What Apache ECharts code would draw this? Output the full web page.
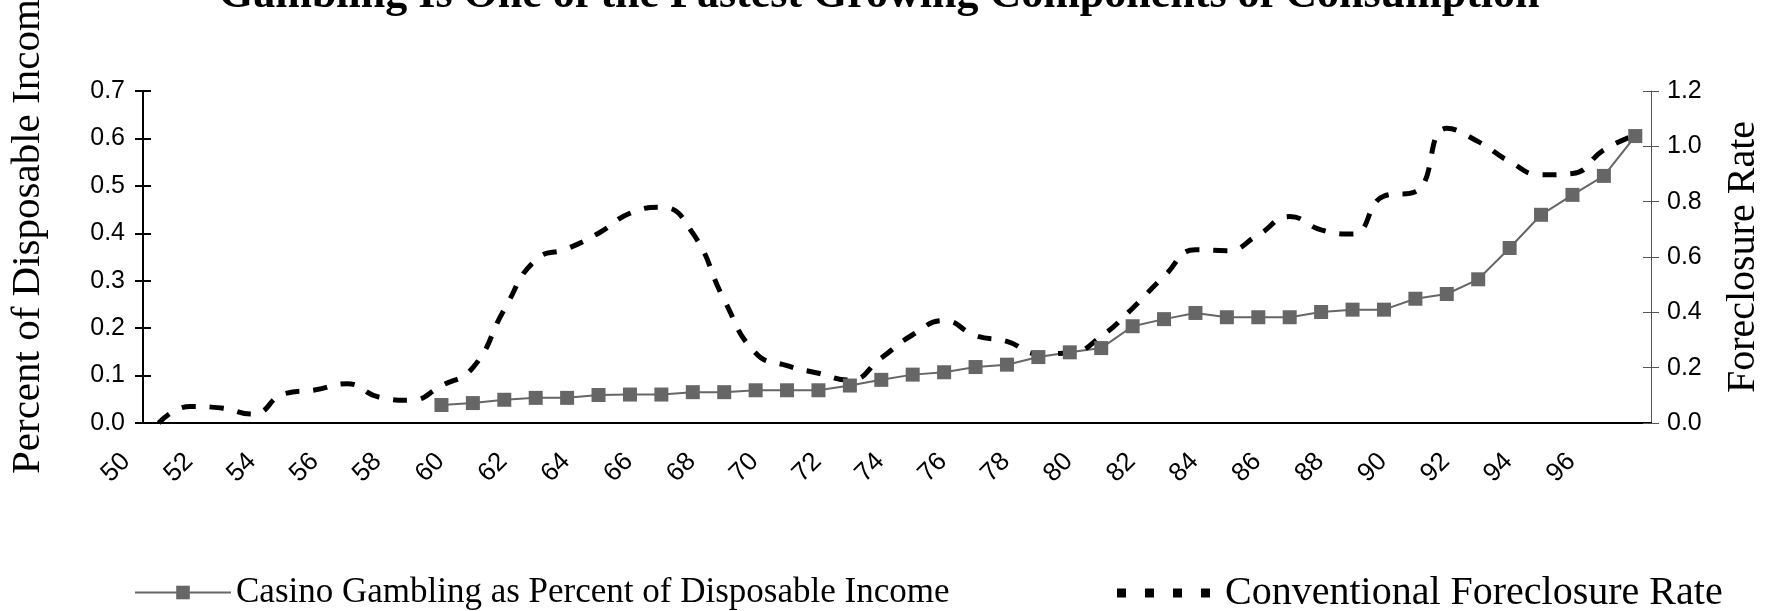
<!DOCTYPE html>
<html>
<head>
<meta charset="utf-8">
<script src="https://cdn.jsdelivr.net/npm/echarts@6/dist/echarts.min.js"></script>
<style>
  html, body { margin: 0; padding: 0; background: #fff; }
  #chart { width: 1768px; height: 611px; }
</style>
</head>
<body>
<div id="chart"></div>
<script>
var years = ['50','51','52','53','54','55','56','57','58','59',
             '60','61','62','63','64','65','66','67','68','69',
             '70','71','72','73','74','75','76','77','78','79',
             '80','81','82','83','84','85','86','87','88','89',
             '90','91','92','93','94','95','96','97'];

// casino gambling, percent of disposable income (left axis)
var casino = [null, null, null, null, null, null, null, null, null, 0.038,
              0.042, 0.049, 0.053, 0.053, 0.059, 0.060, 0.060, 0.065, 0.065, 0.069,
              0.069, 0.069, 0.079, 0.091, 0.102, 0.107, 0.118, 0.123, 0.139, 0.149,
              0.158, 0.204, 0.219, 0.232, 0.223, 0.223, 0.223, 0.234, 0.239, 0.239,
              0.262, 0.272, 0.303, 0.369, 0.439, 0.481, 0.521, 0.605];

// conventional foreclosure rate (right axis)
var foreclosure = [0.00, 0.06, 0.054, 0.032, 0.106, 0.12, 0.142, 0.094, 0.082, 0.135,
                   0.20, 0.41, 0.59, 0.63, 0.686, 0.758, 0.78, 0.686, 0.445, 0.253,
                   0.207, 0.18, 0.155, 0.235, 0.319, 0.37, 0.316, 0.295, 0.25, 0.253,
                   0.313, 0.415, 0.53, 0.626, 0.623, 0.68, 0.746, 0.698, 0.683, 0.82,
                   0.836, 1.065, 1.017, 0.945, 0.897, 0.902, 0.987, 1.041];

var leftTicks = { min: 0, max: 0.7, interval: 0.1 };
var rightTicks = { min: 0, max: 1.2, interval: 0.2 };

var titleText = 'Gambling Is One of the Fastest Growing Components of Consumption';
var casinoName = 'Casino Gambling as Percent of Disposable Income';
var foreName = 'Conventional Foreclosure Rate';

var serif = '"Liberation Serif", "Times New Roman", serif';
var sans = '"Liberation Sans", Arial, sans-serif';

// four little squares, like the Excel legend key of the dashed line
var dashKey = 'path://M0 0h9v9h-9zM28 0h9v9h-9zM56 0h9v9h-9zM84 0h9v9h-9z';

var chart = echarts.init(document.getElementById('chart'));

var option = {
    backgroundColor: '#fff',
    animation: false,
    title: {
        text: titleText,
        left: 214,
        top: -31,
        textStyle: { fontFamily: serif, fontWeight: 'bold', fontSize: 44, color: '#000' }
    },
    legend: [{
        data: [casinoName],
        left: 129,
        top: 570,
        itemWidth: 96,
        itemHeight: 17,
        textStyle: { fontFamily: serif, fontSize: 35, color: '#000' }
    }, {
        data: [{ name: foreName, icon: dashKey }],
        left: 1112,
        top: 568,
        itemWidth: 95,
        itemHeight: 9,
        textStyle: { fontFamily: serif, fontSize: 40, color: '#000', padding: [0, 0, 0, 9] }
    }],
    grid: { left: 143, right: 117, top: 91, bottom: 188, outerBoundsMode: 'none' },
    xAxis: [{
        type: 'category',
        data: years,
        position: 'bottom',
        axisLine: { lineStyle: { color: '#000', width: 2 } },
        axisTick: { interval: 0, length: 8, lineStyle: { color: '#000', width: 2 } },
        axisLabel: {
            interval: 1, rotate: 45, margin: 2,
            padding: [0, 46, 0, 0],
            fontFamily: sans, fontSize: 26, color: '#000'
        }
    }, {
        // inside half of the crossing ticks
        type: 'category',
        data: years,
        position: 'bottom',
        axisLine: { show: false },
        axisTick: { inside: true, interval: 0, length: 8, lineStyle: { color: '#000', width: 2 } },
        axisLabel: { show: false }
    }],
    yAxis: [{
        type: 'value',
        position: 'left',
        min: leftTicks.min, max: leftTicks.max, interval: leftTicks.interval,
        name: 'Percent of Disposable Income',
        nameLocation: 'middle',
        nameRotate: 90,
        nameGap: 94,
        nameTextStyle: { fontFamily: serif, fontSize: 41, color: '#000', padding: [0, 0, 0, 59] },
        axisLine: { show: true, lineStyle: { color: '#000', width: 2 } },
        axisTick: { show: true, length: 8, lineStyle: { color: '#000', width: 2 } },
        axisLabel: {
            margin: 18, fontFamily: sans, fontSize: 25, color: '#000',
            formatter: function (v) { return v.toFixed(1); }
        },
        splitLine: { show: false }
    }, {
        type: 'value',
        position: 'right',
        min: rightTicks.min, max: rightTicks.max, interval: rightTicks.interval,
        name: 'Foreclosure Rate',
        nameLocation: 'middle',
        nameRotate: 90,
        nameGap: 72,
        nameTextStyle: { fontFamily: serif, fontSize: 40, color: '#000' },
        axisLine: { show: true, lineStyle: { color: '#555', width: 1 } },
        axisTick: { show: true, length: 8, lineStyle: { color: '#555', width: 1 } },
        axisLabel: {
            margin: 16, fontFamily: sans, fontSize: 25, color: '#000',
            formatter: function (v) { return v.toFixed(1); }
        },
        splitLine: { show: false }
    }, {
        type: 'value',
        position: 'left',
        min: leftTicks.min, max: leftTicks.max, interval: leftTicks.interval,
        axisLine: { show: false },
        axisTick: { show: true, inside: true, length: 8, lineStyle: { color: '#000', width: 2 } },
        axisLabel: { show: false },
        splitLine: { show: false }
    }, {
        type: 'value',
        position: 'right',
        min: rightTicks.min, max: rightTicks.max, interval: rightTicks.interval,
        axisLine: { show: false },
        axisTick: { show: true, inside: true, length: 8, lineStyle: { color: '#555', width: 1 } },
        axisLabel: { show: false },
        splitLine: { show: false }
    }],
    series: [{
        name: casinoName,
        type: 'line',
        yAxisIndex: 0,
        data: casino,
        symbol: 'rect',
        symbolSize: 14,
        itemStyle: { color: '#666666' },
        lineStyle: { color: '#666666', width: 2 }
    }, {
        name: foreName,
        type: 'line',
        yAxisIndex: 1,
        data: foreclosure,
        smooth: true,
        symbol: 'none',
        itemStyle: { color: '#000' },
        lineStyle: { color: '#000', width: 5, type: [14, 14] }
    }]
};

chart.setOption(option);
</script>
</body>
</html>
